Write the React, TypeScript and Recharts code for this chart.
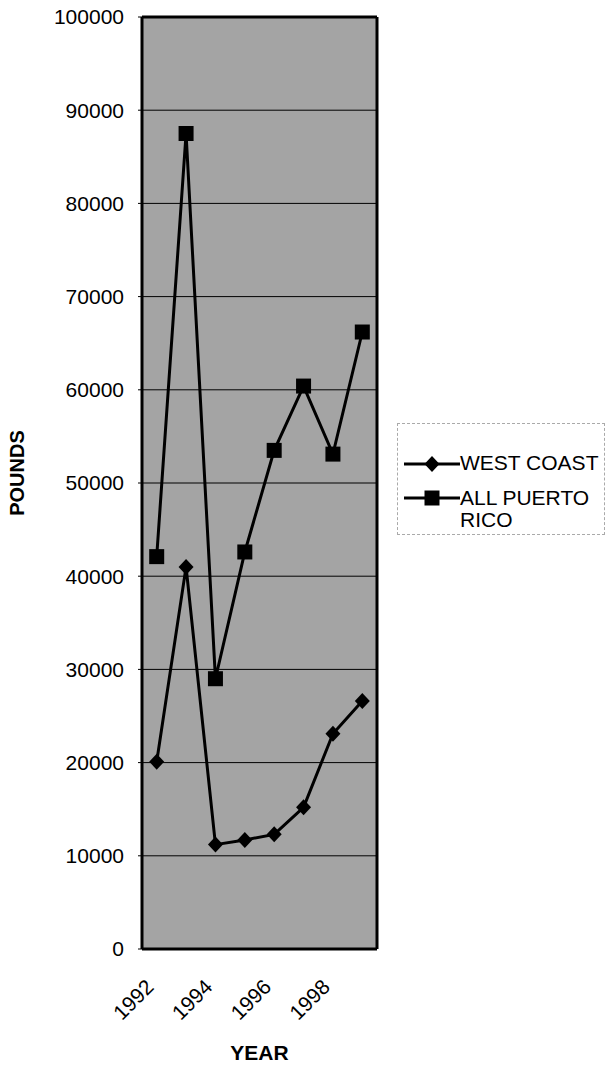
import React from "react";
import {
  LineChart,
  Line,
  XAxis,
  YAxis,
  CartesianGrid,
  Legend,
  ReferenceLine,
  Label,
} from "recharts";

const years = ["1992", "1993", "1994", "1995", "1996", "1997", "1998", "1999"];
const westCoast = [20100, 41000, 11200, 11700, 12300, 15200, 23100, 26600];
const allPuertoRico = [42100, 87500, 29000, 42600, 53500, 60400, 53100, 66200];
const yTicks = [0, 10000, 20000, 30000, 40000, 50000, 60000, 70000, 80000, 90000, 100000];

const data = years.map((year, i) => ({
  year,
  west: westCoast[i],
  all: allPuertoRico[i],
}));

const FONT = "'Liberation Sans', Arial, sans-serif";

const diamondDot = (props: any) => {
  const { cx, cy, index } = props;
  return (
    <path
      key={"d" + index}
      d={`M${cx},${cy - 8} L${cx + 7.5},${cy} L${cx},${cy + 8} L${cx - 7.5},${cy} Z`}
      fill="#000"
    />
  );
};

const squareDot = (props: any) => {
  const { cx, cy, index } = props;
  return <rect key={"s" + index} x={cx - 7.5} y={cy - 7.5} width={15} height={15} fill="#000" />;
};

const YearTick = (props: any) => {
  const { x, y, payload } = props;
  return (
    <g transform={`translate(${x - 7},${y + 34}) rotate(-45)`}>
      <text
        textAnchor="end"
        dominantBaseline="central"
        fontSize={21}
        fontFamily={FONT}
        fill="#000"
      >
        {payload.value}
      </text>
    </g>
  );
};

const LegendBox = () => (
  <div
    style={{
      width: 208,
      height: 112,
      border: "1px dashed #aaa",
      fontFamily: FONT,
      fontSize: 21,
      color: "#000",
      boxSizing: "border-box",
      position: "relative",
    }}
  >
    <svg width={60} height={112} style={{ position: "absolute", left: 4, top: 0 }}>
      <line x1={2} y1={40} x2={58} y2={40} stroke="#000" strokeWidth={3} />
      <path d="M30,32 L37.5,40 L30,48 L22.5,40 Z" fill="#000" />
      <line x1={2} y1={74} x2={58} y2={74} stroke="#000" strokeWidth={3} />
      <rect x={22.5} y={66.5} width={15} height={15} fill="#000" />
    </svg>
    <div style={{ position: "absolute", left: 62, top: 28, lineHeight: "22px", whiteSpace: "nowrap" }}>
      WEST COAST
    </div>
    <div style={{ position: "absolute", left: 62, top: 63, lineHeight: "22px", width: 150 }}>
      ALL PUERTO RICO
    </div>
  </div>
);

export default function App() {
  return (
    <div style={{ position: "absolute", left: 0, top: 0, background: "#fff" }}>
      <LineChart
        width={609}
        height={1066}
        data={data}
        margin={{ top: 17, right: 231, bottom: 0, left: 0 }}
      >
        <CartesianGrid
          vertical={false}
          stroke="#000"
          strokeWidth={1}
          fill="#a4a4a4"
          fillOpacity={1}
        />
        <XAxis
          dataKey="year"
          height={117}
          interval={1}
          tickLine={false}
          tickSize={0}
          tickMargin={0}
          axisLine={{ stroke: "#000", strokeWidth: 3 }}
          padding={{ left: 14.7, right: 14.7 }}
          tick={<YearTick />}
        >
          <Label
            value="YEAR"
            position="insideBottom"
            offset={6}
            style={{ fontFamily: FONT, fontSize: 21, fontWeight: "bold", fill: "#000" }}
          />
        </XAxis>
        <YAxis
          width={142}
          domain={[0, 100000]}
          ticks={yTicks}
          interval={0}
          axisLine={{ stroke: "#000", strokeWidth: 3 }}
          tickLine={{ stroke: "#000" }}
          tickSize={4}
          tickMargin={14}
          tick={{ fontFamily: FONT, fontSize: 21, fill: "#000" }}
        >
          <Label
            content={(p: any) => {
              const vb = p.viewBox;
              const cx = vb.x + 17;
              const cy = vb.y + vb.height / 2 - 10;
              return (
                <text
                  x={cx}
                  y={cy}
                  transform={`rotate(-90 ${cx} ${cy})`}
                  textAnchor="middle"
                  dominantBaseline="central"
                  fontFamily={FONT}
                  fontSize={20}
                  fontWeight="bold"
                  fill="#000"
                >
                  POUNDS
                </text>
              );
            }}
          />
        </YAxis>
        <YAxis
          yAxisId="right"
          orientation="right"
          width={1}
          domain={[0, 100000]}
          ticks={yTicks}
          tick={false}
          tickLine={false}
          axisLine={{ stroke: "#000", strokeWidth: 3 }}
        />
        <ReferenceLine y={100000} stroke="#000" strokeWidth={3} ifOverflow="visible" />
        <Line
          dataKey="west"
          name="WEST COAST"
          stroke="#000"
          strokeWidth={3}
          dot={diamondDot}
          activeDot={false}
          isAnimationActive={false}
        />
        <Line
          yAxisId="right"
          dataKey="all"
          name="ALL PUERTO RICO"
          stroke="#000"
          strokeWidth={3}
          dot={squareDot}
          activeDot={false}
          isAnimationActive={false}
        />
        <Legend
          layout="vertical"
          align="center"
          verticalAlign="middle"
          content={() => <LegendBox />}
          wrapperStyle={{ position: "absolute", left: 397, top: 423, width: 208 }}
        />
      </LineChart>
    </div>
  );
}
